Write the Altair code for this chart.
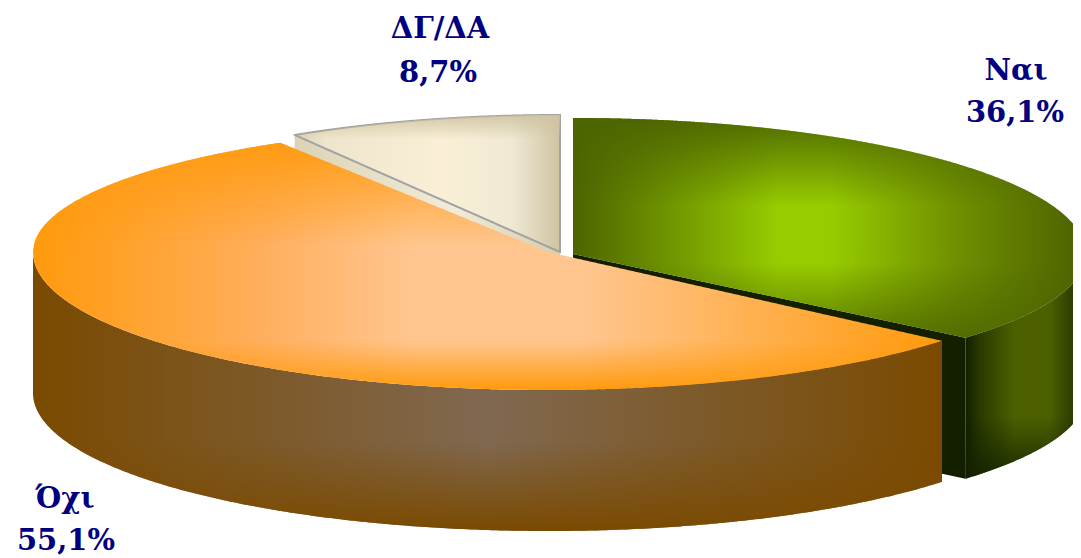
import numpy as np
import pandas as pd
import altair as alt

# ---- data
labels = ["Ναι", "Όχι", "ΔΓ/ΔΑ"]
shares = [36.1, 55.1, 8.7]

# ---- projection of each exploded slice: centre x, centre y, radius x, radius y front, radius y back
GEOM = {"Ναι": (573, 254, 513, 130, 136), "Όχι": (548, 252, 515, 138, 128), "ΔΓ/ΔΑ": (560, 252, 510, 137, 137)}
DEPTH = 141
total = sum(shares)
ends = np.cumsum(shares) / total * 360
starts = np.concatenate([[0], ends[:-1]])
ANG = {l: (s, e) for l, s, e in zip(labels, starts, ends)}

def ell(label, deg):
    cx, cy, rx, ryf, ryb = GEOM[label]
    t = np.radians(deg)
    c = np.cos(t)
    return cx + rx * np.sin(t), cy - np.where(c > 0, ryb, ryf) * c

def top_rows(label):
    a, b = ANG[label]
    cx, cy = GEOM[label][:2]
    px, py = ell(label, np.linspace(a, b, 400))
    px = np.concatenate([[cx], px, [cx]])
    py = np.concatenate([[cy], py, [cy]])
    xs = np.unique(np.concatenate([np.linspace(px.min() + .01, px.max() - .01, 700), [cx - .01, cx + .01]]))
    rows = []
    for x in xs:
        hit = []
        for i in range(len(px) - 1):
            x0, x1 = px[i], px[i + 1]
            if (x0 - x) * (x1 - x) <= 0 and x0 != x1:
                hit.append(py[i] + (x - x0) / (x1 - x0) * (py[i + 1] - py[i]))
        if hit:
            rows.append({"x": x, "y": min(hit), "y2": max(hit)})
    return pd.DataFrame(rows)

def wall_rows(label, a, b):
    x, y = ell(label, np.linspace(a, b, 300))
    return pd.DataFrame({"x": x, "y": y, "y2": y + DEPTH}).sort_values("x")

def cut_rows(label, deg):
    cx, cy = GEOM[label][:2]
    ex, ey = ell(label, deg)
    x = np.linspace(min(cx, ex), max(cx, ex), 2)
    y = cy + (x - cx) * (ey - cy) / (ex - cx)
    return pd.DataFrame({"x": x, "y": y, "y2": y + DEPTH})

X = alt.Scale(domain=[8, 1073], range=[0, 1065])
Y = alt.Scale(domain=[8, 558], range=[0, 550])

def area(df, fill, **kw):
    return alt.Chart(df).mark_area(fill=fill, interpolate="linear", clip=True, **kw).encode(
        x=alt.X("x:Q", scale=X, axis=None),
        y=alt.Y("y:Q", scale=Y, axis=None),
        y2="y2:Q",
    )

def grad(stops, horizontal=True):
    end = dict(x1=0, x2=1, y1=0, y2=0) if horizontal else dict(x1=0, x2=0, y1=0, y2=1)
    return alt.LinearGradient(gradient="linear", stops=[alt.GradientStop(offset=o, color=c) for o, c in stops], **end)

N, O, D = labels
layers = []

# Ναι
df = wall_rows(N, 90, ANG[N][1])
layers.append(area(df, grad([(0, "#121f00"), (.12, "#2a3a00"), (.4, "#4c6000"), (.7, "#4c6000"), (1, "#1c2800")])))
layers.append(area(df, grad([(0, "rgba(18,31,0,0)"), (.72, "rgba(18,31,0,0)"), (1, "rgba(18,31,0,.85)")], False)))
layers.append(area(cut_rows(N, ANG[N][1]), "#141f00"))
df = top_rows(N)
layers.append(area(df, grad([(0, "#4c6400"), (.4, "#97cc00"), (.5, "#97cc00"), (.75, "#6f8f00"), (1, "#4c6000")])))
layers.append(area(df, grad([(0, "rgba(76,100,0,.95)"), (.4, "rgba(76,100,0,0)"), (.66, "rgba(76,100,0,0)"), (1, "rgba(76,100,0,.8)")], False)))

# ΔΓ/ΔΑ
layers.append(area(cut_rows(D, ANG[D][0]), grad([(0, "#dcd3b5"), (.6, "#f1ecd8"), (1, "#d6cdae")])))
df = top_rows(D)
layers.append(area(df, grad([(0, "#ddd3b4"), (.12, "#ede5cc"), (.55, "#faefd6"), (.82, "#efe9d4"), (1, "#cfc3a1")]),
                   stroke="#a2a2a2", strokeWidth=2))
layers.append(area(df, grad([(0, "rgba(207,195,161,.9)"), (.18, "rgba(207,195,161,0)")], False)))

# Όχι
df = wall_rows(O, ANG[O][0], 270)
layers.append(area(df, grad([(0, "#7a4a00"), (.5, "#806850"), (1, "#7a4a00")])))
layers.append(area(df, grad([(0, "rgba(122,74,0,0)"), (.68, "rgba(122,74,0,0)"), (1, "rgba(122,74,0,1)")], False)))
df = top_rows(O)
layers.append(area(df, grad([(0, "#ff9a0c"), (.25, "#ffae5c"), (.42, "#ffc690"), (.6, "#ffc690"), (1, "#ff9a0c")])))
layers.append(area(df, grad([(0, "rgba(255,154,12,.95)"), (.42, "rgba(255,154,12,0)"), (.8, "rgba(255,154,12,0)"), (1, "rgba(255,154,12,1)")], False)))

# labels
pct = [f"{v:.1f}%".replace(".", ",") for v in shares]
ANCHOR = {N: (1016, 80, 1015, 122), O: (65, 508, 66, 550), D: (440, 38, 438, 82)}
rows = []
for l, p in zip(labels, pct):
    a = ANCHOR[l]
    rows += [{"t": l, "x": a[0], "y": a[1]}, {"t": p, "x": a[2], "y": a[3]}]
text = alt.Chart(pd.DataFrame(rows)).mark_text(
    font="DejaVu Serif", fontWeight="bold", fontSize=29, color="#000080", align="center", baseline="alphabetic"
).encode(x=alt.X("x:Q", scale=X, axis=None), y=alt.Y("y:Q", scale=Y, axis=None), text="t:N")
layers.append(text)

chart = alt.layer(*layers).properties(width=1065, height=550, padding=0, background="white",
                                      autosize=alt.AutoSizeParams(type="none")).configure_view(stroke=None)
chart.save("out.html", embed_options={"renderer": "svg", "actions": False})
